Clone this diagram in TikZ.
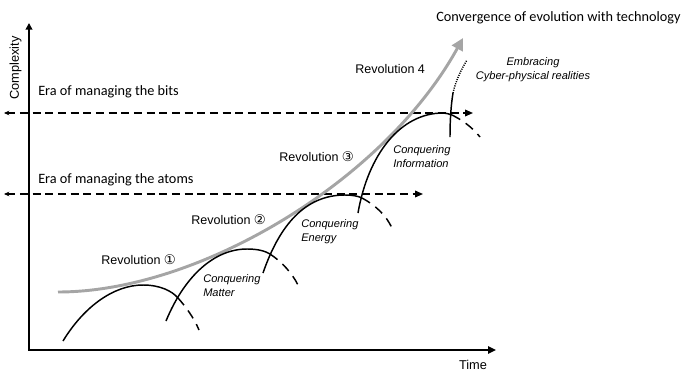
\documentclass[tikz,border=0pt]{standalone}
\usepackage{fontspec}
\setmainfont{Liberation Sans}
\newfontfamily\carl{Carlito}
\newfontfamily\djv{DejaVu Sans}
\usetikzlibrary{arrows.meta}
\definecolor{trend}{RGB}{165,165,165}
\begin{document}
\begin{tikzpicture}[x=0.75pt,y=-0.75pt,
  axis/.style={line width=2.2pt,{Triangle[length=5pt,width=5pt]}-{Triangle[length=6pt,width=5.5pt]}},
  era/.style={line width=1.1pt,dash pattern=on 6pt off 3.5pt,{Stealth[length=4pt,width=3.5pt]}-{Triangle[length=6pt,width=5pt]}},
  wave/.style={line width=1.1pt},
  fade/.style={line width=1.1pt,dash pattern=on 7pt off 5pt},
  dotline/.style={line width=1.1pt,dash pattern=on 0.8pt off 0.9pt},
  trendline/.style={draw=trend,line width=2.2pt,-{Triangle[length=9pt,width=9pt]}},
  revlbl/.style={font=\fontsize{9.4}{11}\selectfont,inner sep=0pt,anchor=west},
  conq/.style={font=\fontsize{8.3}{10.5}\selectfont\itshape,inner sep=0pt,anchor=west,align=left},
  eralbl/.style={font=\carl\fontsize{10.7}{13}\selectfont,inner sep=0pt,anchor=west},
  axlbl/.style={font=\fontsize{9.6}{11}\selectfont,inner sep=0pt}
]
\useasboundingbox (0,0) rectangle (684,371);

% axes
\coordinate (O) at (29,350);
\coordinate (Ytop) at (29,23);
\coordinate (Xend) at (496,350);
\draw[axis] (Ytop) -- (O) -- (Xend);
\node[axlbl,rotate=90] (complexity) at (15.5,68) {Complexity};
\node[axlbl] (time) at (473,365) {Time};

% eras
\coordinate (bitsL) at (4,113);
\coordinate (bitsR) at (473,113);
\coordinate (atomsL) at (4,194);
\coordinate (atomsR) at (423,194);
\draw[era] (bitsL) -- (bitsR);
\draw[era] (atomsL) -- (atomsR);
\node[eralbl] (bitslbl) at (38,92) {Era of managing the bits};
\node[eralbl] (atomslbl) at (38,180) {Era of managing the atoms};
\node[eralbl] (conv) at (436,18) {Convergence of evolution with technology};

% trend
\coordinate (trendS) at (58,292);
\coordinate (trendE) at (463,38);
\draw[trendline] (trendS) .. controls (200,292) and (385,180) .. (trendE);

% arc 1
\draw[wave] (63,341) .. controls (85,305) and (115,285) .. (143,285)
  .. controls (160,285) and (172,291) .. (178,298);
\draw[fade] (178,298) .. controls (186,307) and (194,318) .. (199,330);
% arc 2
\draw[wave] (166,321) .. controls (185,275) and (215,249) .. (247,249)
  .. controls (258,249) and (265,251) .. (270,254);
\draw[fade] (270,254) .. controls (282,262) and (292,273) .. (298,285);
% arc 3
\draw[wave] (263,273) .. controls (282,218) and (310,195) .. (345,195)
  .. controls (352,195) and (358,196) .. (362,198);
\draw[fade] (362,198) .. controls (375,205) and (386,215) .. (392,228);
% arc 4
\draw[wave] (358,213) .. controls (368,155) and (400,113) .. (443,113)
  .. controls (446,113) and (449,114) .. (452,115);
\draw[fade] (452,115) .. controls (462,120) and (472,127) .. (480,137);
% arc 5
\draw[wave] (450,137) .. controls (450,120) and (451,105) .. (453,93);
\draw[dotline] (453,93) .. controls (456,80) and (461,70) .. (467,60);

% labels
\node[revlbl] (rev1) at (101,260) {Revolution {\djv\fontsize{10}{11}\selectfont ①}};
\node[revlbl] (rev2) at (191,220) {Revolution {\djv\fontsize{10}{11}\selectfont ②}};
\node[revlbl] (rev3) at (279,157) {Revolution {\djv\fontsize{10}{11}\selectfont ③}};
\node[revlbl] (rev4) at (355,69) {Revolution 4};
\node[conq] (matter) at (203,285.5) {Conquering\\Matter};
\node[conq] (energy) at (301,232) {Conquering\\Energy};
\node[conq] (info) at (393,157) {Conquering\\Information};
\node[conq,anchor=center,align=center] (cyber) at (533,70) {Embracing\\Cyber-physical realities};
\end{tikzpicture}
\end{document}
